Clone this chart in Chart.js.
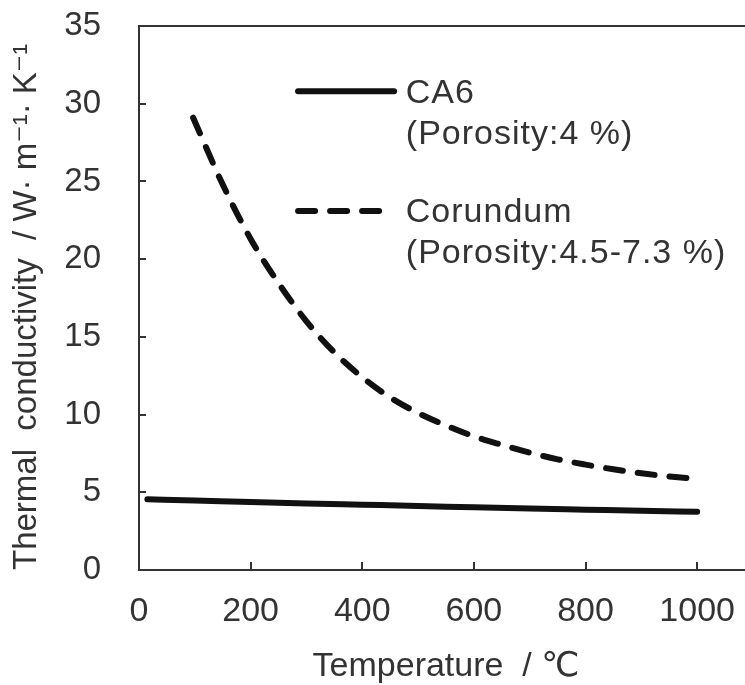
<!DOCTYPE html>
<html>
<head>
<meta charset="utf-8">
<script src="https://cdn.jsdelivr.net/npm/chart.js@4.4.1/dist/chart.umd.min.js"></script>
<style>
html,body{margin:0;padding:0;background:#fff;overflow:hidden;width:745px;height:685px;}
canvas{display:block;}
</style>
</head>
<body>
<canvas id="c" width="753" height="685"></canvas>
<script>
// Data
const ca6Temps = [15, 100, 200, 300, 400, 500, 600, 700, 800, 900, 1000];
const ca6Values = [4.55, 4.47, 4.37, 4.28, 4.2, 4.12, 4.03, 3.95, 3.88, 3.81, 3.75];
const corTemps = [97, 150, 200, 250, 300, 350, 400, 450, 500, 550, 600, 650, 700, 750, 800, 850, 900, 950, 1000];
const corValues = [29.1, 24.8, 21.3, 18.45, 16.0, 14.0, 12.4, 11.1, 10.1, 9.3, 8.6, 8.05, 7.55, 7.12, 6.78, 6.48, 6.22, 6.02, 5.85];
const xTickValues = [0, 200, 400, 600, 800, 1000];
const yTickValues = [0, 5, 10, 15, 20, 25, 30, 35];
const legendLines = [
  ["CA6", "(Porosity:4 %)"],
  ["Corundum", "(Porosity:4.5-7.3 %)"]
];
const xTitle = "Temperature  / \u2103";
const yTitle = "Thermal  conductivity  / W\u00B7 m\u207B\u00B9\u00B7 K\u207B\u00B9";

const FONT = "'Liberation Sans', Arial, 'DejaVu Sans', sans-serif";
const TXT = '#333';
const INK = '#111';

const toPts = (xs, ys) => xs.map((x, i) => ({x: x, y: ys[i]}));

const decor = {
  id: 'decor',
  afterDraw(chart) {
    const ctx = chart.ctx, a = chart.chartArea;
    const xs = chart.scales.x, ys = chart.scales.y;
    ctx.save();
    ctx.strokeStyle = '#333';
    ctx.lineWidth = 2;
    // top frame line
    ctx.beginPath();
    ctx.moveTo(a.left - 1, a.top);
    ctx.lineTo(a.right, a.top);
    ctx.stroke();
    // inward tick marks
    ctx.beginPath();
    yTickValues.forEach(v => {
      if (v <= 0 || v >= 35) return;
      const py = Math.round(ys.getPixelForValue(v));
      ctx.moveTo(a.left, py);
      ctx.lineTo(a.left + 7, py);
    });
    xTickValues.forEach(v => {
      if (v <= 0) return;
      const px = Math.round(xs.getPixelForValue(v));
      ctx.moveTo(px, a.bottom);
      ctx.lineTo(px, a.bottom - 8);
    });
    ctx.stroke();

    // legend
    const lx0 = xs.getPixelForValue(285), lx1 = xs.getPixelForValue(457);
    const tx = xs.getPixelForValue(478);
    const rows = [
      {ly: ys.getPixelForValue(30.8), dash: []},
      {ly: ys.getPixelForValue(23.1), dash: [17, 15]}
    ];
    ctx.lineCap = 'round';
    ctx.strokeStyle = INK;
    ctx.lineWidth = 6;
    rows.forEach((r, i) => {
      ctx.setLineDash(r.dash);
      ctx.beginPath();
      ctx.moveTo(lx0, r.ly);
      ctx.lineTo(i === 0 ? lx1 : lx1 - 6, r.ly);
      ctx.stroke();
    });
    ctx.setLineDash([]);
    ctx.fillStyle = TXT;
    ctx.font = '34px ' + FONT;
    ctx.textBaseline = 'middle';
    ctx.textAlign = 'left';
    try { ctx.letterSpacing = '1px'; } catch (e) {}
    rows.forEach((r, i) => {
      ctx.fillText(legendLines[i][0], tx, r.ly + 2);
      ctx.fillText(legendLines[i][1], tx, r.ly + 43);
    });
    ctx.restore();
  }
};

new Chart(document.getElementById('c'), {
  type: 'line',
  data: {
    datasets: [
      {
        label: 'CA6 (Porosity:4 %)',
        data: toPts(ca6Temps, ca6Values),
        borderColor: INK,
        borderWidth: 6,
        borderCapStyle: 'round',
        pointRadius: 0,
        cubicInterpolationMode: 'monotone',
        fill: false
      },
      {
        label: 'Corundum (Porosity:4.5-7.3 %)',
        data: toPts(corTemps, corValues),
        borderColor: INK,
        borderWidth: 6,
        borderDash: [17, 15],
        borderCapStyle: 'round',
        pointRadius: 0,
        cubicInterpolationMode: 'monotone',
        fill: false
      }
    ]
  },
  options: {
    responsive: false,
    animation: false,
    devicePixelRatio: 1,
    layout: {padding: {top: 26, right: 0, left: 0, bottom: 0}},
    plugins: {legend: {display: false}, tooltip: {enabled: false}},
    scales: {
      x: {
        type: 'linear',
        min: 0,
        max: 1100,
        afterBuildTicks: s => { s.ticks = xTickValues.map(v => ({value: v})); },
        afterFit: s => { s.height = 115; s.paddingLeft = 0; s.paddingRight = 0; s.paddingTop = 0; s.paddingBottom = 0; },
        ticks: {font: {family: FONT, size: 34}, color: TXT, padding: 21, maxRotation: 0, callback: v => String(v)},
        grid: {drawOnChartArea: false, drawTicks: false},
        border: {display: true, color: '#333', width: 2},
        title: {display: true, text: xTitle, font: {family: FONT, size: 34}, color: TXT, padding: {top: 0, bottom: -2}}
      },
      y: {
        min: 0,
        max: 35,
        afterBuildTicks: s => { s.ticks = yTickValues.map(v => ({value: v})); },
        afterFit: s => { s.width = 139; s.paddingTop = 0; s.paddingBottom = 0; s.paddingLeft = 0; s.paddingRight = 0; },
        ticks: {font: {family: FONT, size: 33}, color: TXT, padding: 38, callback: v => String(v)},
        grid: {drawOnChartArea: false, drawTicks: false},
        border: {display: true, color: '#333', width: 2},
        title: {display: true, text: yTitle, align: 'start', font: {family: FONT, size: 33}, color: TXT, padding: {top: 7, bottom: 0}}
      }
    }
  },
  plugins: [decor]
});
</script>
</body>
</html>
